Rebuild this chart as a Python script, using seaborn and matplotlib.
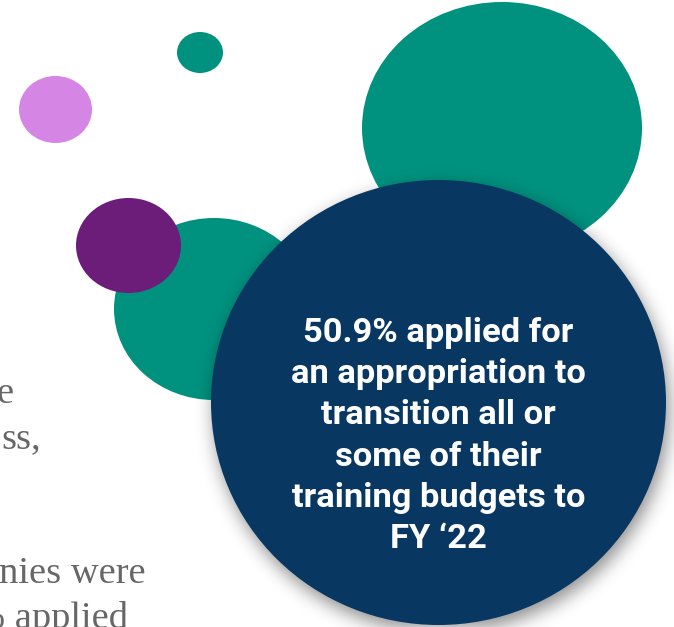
import numpy as np
import seaborn as sns
import matplotlib.pyplot as plt
from matplotlib.patches import Ellipse

sns.set_theme(style="white")

W, H = 674, 627

# bubbles: centre x, centre y (pixels from top), width, height, colour
bubble_names = ["pink", "teal_small", "teal_big", "teal_mid", "purple"]
bubble_x = [55.5, 200, 502, 214, 128.5]
bubble_y = [109.5, 52.5, 128, 309, 245.5]
bubble_w = [73, 46, 280, 200, 105]
bubble_h = [67, 41, 252, 182, 95]
bubble_colors = ["#d585e3", "#00927f", "#00927f", "#00927f", "#6c1d79"]

# the big navy bubble carrying the headline
main_x, main_y, main_w, main_h = 438.5, 402.5, 455, 445
main_color = "#083762"
main_lines = ["50.9% applied for", "an appropriation to", "transition all or",
              "some of their", "training budgets to", "FY \u201822"]

# body text cut off on the left edge (right end x, baseline y)
side_lines = ["e", "ss,", "anies were", "% applied"]
side_right = [14, 41, 146, 128]
side_base = [403, 448, 583, 628]

fig = plt.figure(figsize=(W / 100, H / 100), dpi=100)
ax = fig.add_axes([0, 0, 1, 1])
ax.set_xlim(0, W)
ax.set_ylim(H, 0)
ax.set_axis_off()

for i in range(len(bubble_names)):
    z = 3 if bubble_names[i] == "purple" else 2
    ax.add_patch(Ellipse((bubble_x[i], bubble_y[i]), bubble_w[i], bubble_h[i],
                         facecolor=bubble_colors[i], edgecolor="none", zorder=z))

# soft drop shadow under the navy bubble
yy, xx = np.mgrid[0:H, 0:W] + 0.5
off_x, off_y = 3, 7
mask = (((xx - main_x - off_x) / (main_w / 2)) ** 2 +
        ((yy - main_y - off_y) / (main_h / 2)) ** 2 <= 1).astype(float)
sigma = 9
k = np.arange(-3 * sigma, 3 * sigma + 1)
kern = np.exp(-k ** 2 / (2 * sigma ** 2))
kern /= kern.sum()
blur = np.apply_along_axis(lambda r: np.convolve(r, kern, mode="same"), 1, mask)
blur = np.apply_along_axis(lambda c: np.convolve(c, kern, mode="same"), 0, blur)
shadow = np.zeros((H, W, 4))
shadow[..., 3] = blur * 0.45
ax.imshow(shadow, extent=(0, W, H, 0), zorder=4, interpolation="bilinear")

ax.add_patch(Ellipse((main_x, main_y), main_w, main_h,
                     facecolor=main_color, edgecolor="none", zorder=5))

for i, line in enumerate(main_lines):
    ax.text(main_x, 342 + i * 41.2, line, ha="center", va="baseline",
            color="white", fontsize=24.8, fontweight="bold",
            family=["Roboto", "DejaVu Sans"], zorder=6)

for i, line in enumerate(side_lines):
    ax.text(side_right[i], side_base[i], line, ha="right", va="baseline",
            color="#676767", fontsize=27.7,
            family=["Liberation Serif", "DejaVu Serif"], zorder=1)

fig.savefig("out.png", dpi=100)
